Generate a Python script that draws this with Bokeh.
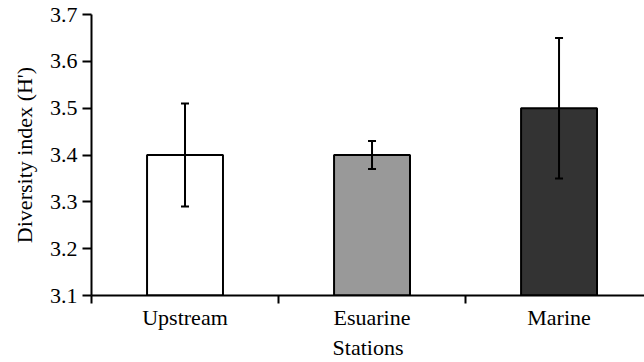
import numpy as np
from bokeh.plotting import figure
from bokeh.models import (ColumnDataSource, FixedTicker, PrintfTickFormatter,
                          Range1d, Whisker, TeeHead)
from bokeh.embed import file_html
from bokeh.resources import INLINE

# ---- data ----
categories = ["Upstream", "Esuarine", "Marine"]
means = [3.40, 3.40, 3.50]
errors = [0.11, 0.03, 0.15]
bar_colors = ["#ffffff", "#999999", "#333333"]
y_ticks = [3.1, 3.2, 3.3, 3.4, 3.5, 3.6, 3.7]
x_label = "Stations"
y_label = "Diversity index (H')"

xs = np.arange(len(categories)) + 0.5
src = ColumnDataSource(dict(
    x=xs, top=means, color=bar_colors,
    lower=np.array(means) - np.array(errors),
    upper=np.array(means) + np.array(errors),
))

FONT = "Liberation Serif"

p = figure(width=644, height=362, output_backend="svg", toolbar_location=None,
           x_range=Range1d(0, 2.957), y_range=Range1d(y_ticks[0], y_ticks[-1]),
           min_border_left=91, min_border_right=0, min_border_top=14,
           min_border_bottom=65)
p.outline_line_color = None
p.grid.visible = False
p.background_fill_color = "white"

p.vbar(x="x", top="top", bottom=y_ticks[0], width=0.406, source=src,
       fill_color="color", line_color="black", line_width=2)

w = Whisker(base="x", lower="lower", upper="upper", source=src,
            line_color="black", line_width=2, level="annotation",
            upper_head=TeeHead(size=8, line_color="black", line_width=2),
            lower_head=TeeHead(size=8, line_color="black", line_width=2))
p.add_layout(w)

# x axis: labels at bar centres, tick marks at category boundaries (minor ticks)
xa = p.xaxis[0]
xa.ticker = FixedTicker(ticks=list(xs),
                        minor_ticks=list(np.arange(len(categories) + 1)))
xa.major_label_overrides = {float(x): c for x, c in zip(xs, categories)}
xa.major_tick_out = 0
xa.major_tick_in = 0
xa.minor_tick_out = 8
xa.minor_tick_in = 0
xa.minor_tick_line_width = 2
xa.minor_tick_line_color = "black"
xa.axis_line_width = 2
xa.axis_line_color = "black"
xa.major_label_standoff = 1
xa.axis_label = x_label
xa.axis_label_standoff = 2
xa.major_label_text_font = FONT
xa.major_label_text_font_size = "22px"
xa.major_label_text_color = "black"
xa.axis_label_text_font = FONT
xa.axis_label_text_font_size = "22px"
xa.axis_label_text_font_style = "normal"
xa.axis_label_text_color = "black"

ya = p.yaxis[0]
ya.ticker = FixedTicker(ticks=y_ticks, minor_ticks=[])
ya.formatter = PrintfTickFormatter(format="%.1f")
ya.major_tick_out = 9
ya.major_tick_in = 0
ya.major_tick_line_width = 2
ya.major_tick_line_color = "black"
ya.axis_line_width = 2
ya.axis_line_color = "black"
ya.major_label_standoff = 5
ya.axis_label = y_label
ya.axis_label_standoff = 10
ya.major_label_text_font = FONT
ya.major_label_text_font_size = "22px"
ya.major_label_text_color = "black"
ya.axis_label_text_font = FONT
ya.axis_label_text_font_size = "22px"
ya.axis_label_text_font_style = "normal"
ya.axis_label_text_color = "black"

open("out.html", "w").write(file_html(p, INLINE))
